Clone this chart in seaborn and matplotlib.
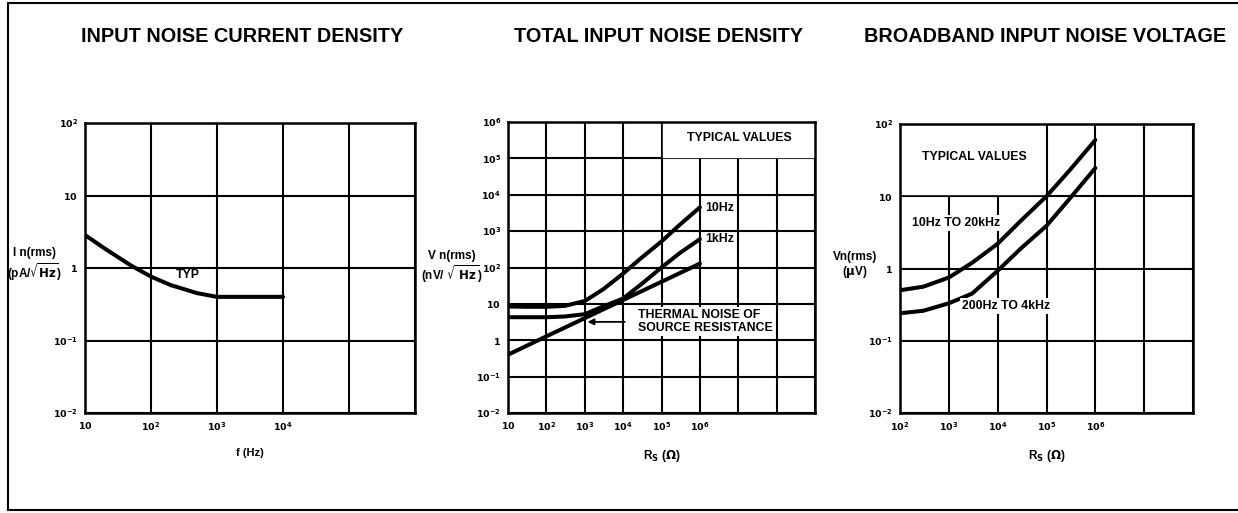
import pandas as pd
import matplotlib
matplotlib.use("Agg")
import matplotlib.pyplot as plt
import seaborn as sns
from matplotlib.ticker import NullLocator

# input noise current density (pA/rtHz) vs frequency
f_hz = [10, 20, 50, 100, 200, 500, 1000, 10000]
in_pa = [2.85, 1.85, 1.08, 0.76, 0.58, 0.45, 0.40, 0.40]

# total input noise density (nV/rtHz) vs source resistance
rs_tot = [10, 30, 100, 300, 1e3, 3e3, 1e4, 3e4, 1e5, 3e5, 1e6]
vn_10hz = [8.5, 8.3, 8.3, 8.8, 12, 25, 68, 185, 520, 1500, 4500]
vn_1khz = [4.3, 4.3, 4.3, 4.5, 5.2, 8.5, 14, 35, 100, 250, 600]
rs_thermal = [10, 100, 1e3, 1e4, 1e5, 1e6]
vn_thermal = [0.4, 1.28, 4.05, 12.8, 40.5, 128]

# broadband input noise voltage (uV) vs source resistance
rs_bb = [1e2, 3e2, 1e3, 3e3, 1e4, 3e4, 1e5, 3e5, 1e6]
vn_wide = [0.5, 0.56, 0.75, 1.2, 2.2, 4.6, 10, 23, 60]
vn_narrow = [0.24, 0.26, 0.33, 0.45, 0.93, 1.9, 3.9, 9.3, 24.6]

dec_labels = {1e-2: "$10^{-2}$", 1e-1: "$10^{-1}$", 1: "$1$", 10: "$10$", 1e2: "$10^{2}$",
              1e3: "$10^{3}$", 1e4: "$10^{4}$", 1e5: "$10^{5}$", 1e6: "$10^{6}$",
              1e7: "", 1e8: "", 1e9: ""}

sns.set_style("white")
plt.rcParams["font.family"] = ["Liberation Sans", "DejaVu Sans"]
plt.rcParams["font.weight"] = "bold"
plt.rcParams["mathtext.default"] = "bf"
for k in ["text.color", "axes.labelcolor", "xtick.color", "ytick.color"]:
    plt.rcParams[k] = "black"

LW = 2.9
LBL = 8.8

fig = plt.figure(figsize=(12.38, 5.13), dpi=100)
ax1 = fig.add_axes([85 / 1238, 1 - 413 / 513, 330 / 1238, 290 / 513])
ax2 = fig.add_axes([508 / 1238, 1 - 413 / 513, 307 / 1238, 291 / 513])
ax3 = fig.add_axes([900 / 1238, 1 - 413 / 513, 293 / 1238, 289 / 513])


def setup(ax, xdec, ydec, show_x):
    ax.set_xscale("log")
    ax.set_yscale("log")
    ax.set_xlim(xdec[0], xdec[-1])
    ax.set_ylim(ydec[0], ydec[-1])
    ax.set_xticks(xdec)
    ax.set_xticklabels([dec_labels[v] if v in show_x else "" for v in xdec])
    ax.set_yticks(ydec)
    ax.set_yticklabels([dec_labels[v] for v in ydec])
    ax.xaxis.set_minor_locator(NullLocator())
    ax.yaxis.set_minor_locator(NullLocator())
    ax.tick_params(length=0, labelsize=6.8, pad=5)
    ax.set_axisbelow(True)
    ax.grid(True, which="major", color="black", lw=1.5)
    for s in ax.spines.values():
        s.set_color("black")
        s.set_linewidth(1.8)


# left panel
setup(ax1, [10, 1e2, 1e3, 1e4, 1e5, 1e6], [1e-2, 1e-1, 1, 10, 1e2], [10, 1e2, 1e3, 1e4])
df1 = pd.DataFrame({"f": f_hz, "In": in_pa})
sns.lineplot(data=df1, x="f", y="In", color="black", lw=LW, ax=ax1)
ax1.text(360, 0.8, "TYP", fontsize=LBL, fontweight="bold", ha="center", va="center")
ax1.set_xlabel("f (Hz)", fontsize=8, fontweight="bold")
ax1.xaxis.set_label_coords(0.5, -0.12)
ax1.set_ylabel("I n(rms)\n(pA/$\\sqrt{\\mathbf{Hz}}$)", fontsize=8.5, fontweight="bold",
               rotation=0, ha="center", va="center", linespacing=1.1)
ax1.yaxis.set_label_coords(-0.152, 0.51)

# middle panel
setup(ax2, [10, 1e2, 1e3, 1e4, 1e5, 1e6, 1e7, 1e8, 1e9],
      [1e-2, 1e-1, 1, 10, 1e2, 1e3, 1e4, 1e5, 1e6], [10, 1e2, 1e3, 1e4, 1e5, 1e6])
df2 = pd.concat([
    pd.DataFrame({"Rs": rs_tot, "Vn": vn_10hz, "curve": "10Hz"}),
    pd.DataFrame({"Rs": rs_tot, "Vn": vn_1khz, "curve": "1kHz"}),
    pd.DataFrame({"Rs": rs_thermal, "Vn": vn_thermal, "curve": "thermal"}),
], ignore_index=True)
sns.lineplot(data=df2, x="Rs", y="Vn", hue="curve", palette=["black"] * 3,
             lw=LW, legend=False, estimator=None, ax=ax2)
ax2.fill_between([1.1e5, 1e9], 1.1e5, 1e6, color="white", zorder=1)
ax2.text(1.1e7, 3.6e5, "TYPICAL VALUES", fontsize=LBL, fontweight="bold", ha="center", va="center", zorder=3)
ax2.text(1.35e6, 4300, "10Hz", fontsize=LBL, fontweight="bold", ha="left", va="center")
ax2.text(1.35e6, 600, "1kHz", fontsize=LBL, fontweight="bold", ha="left", va="center")
ax2.text(2.5e4, 3.3, "THERMAL NOISE OF\nSOURCE RESISTANCE", fontsize=LBL, fontweight="bold",
         ha="left", va="center", linespacing=1.15,
         bbox=dict(facecolor="white", edgecolor="none", pad=1.5), zorder=3)
ax2.annotate("", xy=(1.0e3, 3.2), xytext=(1.3e4, 3.2),
             arrowprops=dict(arrowstyle="-|>", color="black", lw=1.3, mutation_scale=9))
ax2.set_xlabel("R$_\\mathbf{S}$ ($\\Omega$)", fontsize=8.5, fontweight="bold")
ax2.xaxis.set_label_coords(0.5, -0.12)
ax2.set_ylabel("V n(rms)\n(nV/ $\\sqrt{\\mathbf{\\ Hz}}$)", fontsize=8.5, fontweight="bold",
               rotation=0, ha="center", va="center", linespacing=1.1)
ax2.yaxis.set_label_coords(-0.182, 0.5)

# right panel
setup(ax3, [1e2, 1e3, 1e4, 1e5, 1e6, 1e7, 1e8], [1e-2, 1e-1, 1, 10, 1e2], [1e2, 1e3, 1e4, 1e5, 1e6])
df3 = pd.concat([
    pd.DataFrame({"Rs": rs_bb, "Vn": vn_wide, "band": "10Hz TO 20kHz"}),
    pd.DataFrame({"Rs": rs_bb, "Vn": vn_narrow, "band": "200Hz TO 4kHz"}),
], ignore_index=True)
sns.lineplot(data=df3, x="Rs", y="Vn", hue="band", palette=["black"] * 2,
             lw=LW, legend=False, estimator=None, ax=ax3)
ax3.fill_between([1e2, 0.9e5], 10.8, 100, color="white", zorder=1)
ax3.text(2.8e2, 35, "TYPICAL VALUES", fontsize=LBL, fontweight="bold", ha="left", va="center", zorder=3)
ax3.text(1.8e2, 4.3, "10Hz TO 20kHz", fontsize=LBL, fontweight="bold", ha="left", va="center",
         bbox=dict(facecolor="white", edgecolor="none", pad=1.5), zorder=3)
ax3.text(1.9e3, 0.30, "200Hz TO 4kHz", fontsize=LBL, fontweight="bold", ha="left", va="center",
         bbox=dict(facecolor="white", edgecolor="none", pad=1.5), zorder=3)
ax3.set_xlabel("R$_\\mathbf{S}$ ($\\Omega$)", fontsize=8.5, fontweight="bold")
ax3.xaxis.set_label_coords(0.5, -0.12)
ax3.set_ylabel("Vn(rms)\n($\\mu$V)", fontsize=8.5, fontweight="bold",
               rotation=0, ha="center", va="center", linespacing=1.1)
ax3.yaxis.set_label_coords(-0.154, 0.51)

# titles
fig.text(242 / 1238, 1 - 37 / 513, "INPUT NOISE CURRENT DENSITY", fontsize=14.3, fontweight="bold", ha="center", va="center")
fig.text(658 / 1238, 1 - 37 / 513, "TOTAL INPUT NOISE DENSITY", fontsize=14.3, fontweight="bold", ha="center", va="center")
fig.text(1045 / 1238, 1 - 37 / 513, "BROADBAND INPUT NOISE VOLTAGE", fontsize=14.3, fontweight="bold", ha="center", va="center")

# page frame
fig.add_artist(plt.Line2D([8 / 1238, 8 / 1238], [1 - 3 / 513, 1 - 510 / 513], color="black", lw=1.5))
fig.add_artist(plt.Line2D([8 / 1238, 1], [1 - 3 / 513, 1 - 3 / 513], color="black", lw=1.5))
fig.add_artist(plt.Line2D([8 / 1238, 1], [1 - 510 / 513, 1 - 510 / 513], color="black", lw=1.5))

fig.savefig("out.png", dpi=100)
